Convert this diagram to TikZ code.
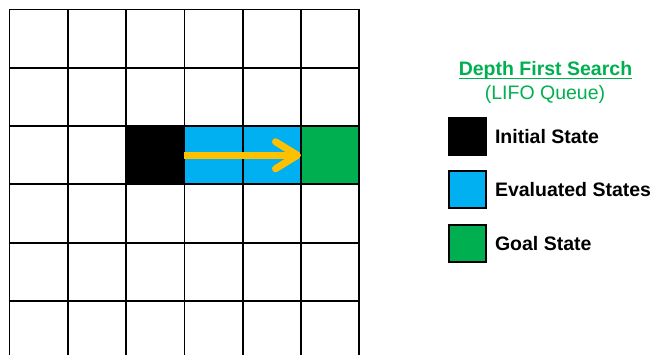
\documentclass[tikz,border=0pt]{standalone}
\usepackage{fontspec}
\setmainfont{Liberation Sans}
\usetikzlibrary{arrows.meta,positioning}
\definecolor{seenblue}{HTML}{00B0F0}
\definecolor{goalgreen}{HTML}{00B050}
\definecolor{pathorange}{HTML}{FFC000}
\tikzset{
  cell/.style={draw=black, line width=1.8pt, minimum size=58.3pt, inner sep=0pt, outer sep=0pt, anchor=north west},
  startcell/.style={cell, fill=black},
  seencell/.style={cell, fill=seenblue},
  goalcell/.style={cell, fill=goalgreen},
  key/.style={draw=black, line width=1.2pt, minimum size=37pt, inner sep=0pt, outer sep=0pt},
  keylabel/.style={font=\fontsize{19.5}{22}\selectfont\bfseries, inner sep=0pt, outer sep=0pt, anchor=west},
  heading/.style={font=\fontsize{19.5}{22}\selectfont, text=goalgreen, inner sep=0pt, anchor=base},
  searcharrow/.style={-{Straight Barb[length=22pt, width=27pt, round]}, line width=7pt, draw=pathorange}
}

\begin{document}
\begin{tikzpicture}[x=1pt, y=-1pt]
  \useasboundingbox (0,0) rectangle (657,355);
  % grid of states
  \foreach \col in {0,...,5}
    \foreach \row in {0,...,5}
      \node[cell] (c-\col-\row) at (9.5+\col*58.3, 9.5+\row*58.3) {};
  \node[startcell] (start) at (c-2-2.north west) {};
  \node[seencell] (seen1) at (c-3-2.north west) {};
  \node[seencell] (seen2) at (c-4-2.north west) {};
  \node[goalcell] (goal) at (c-5-2.north west) {};

  \draw[searcharrow, preaction={draw=black!30, transform canvas={shift={(1.5pt,-1.5pt)}}}] (seen1.west) -- (goal.west);

  % legend
  \node[heading, font=\fontsize{19.5}{22}\selectfont\bfseries] (title) at (545.5,76) {Depth First Search};
  \draw[goalgreen, line width=1.4pt] ([yshift=-2.5pt]title.base west) -- ([yshift=-2.5pt]title.base east);
  \node[heading] (queue) at (545,100) {(LIFO Queue)};

  \node[key, fill=black] (key1) at (467.5,136.5) {};
  \node[key, fill=seenblue] (key2) at (467.5,189.5) {};
  \node[key, fill=goalgreen] (key3) at (467.5,243.5) {};
  \node[keylabel, right=9pt of key1] (lab1) {Initial State};
  \node[keylabel, right=9pt of key2] (lab2) {Evaluated States};
  \node[keylabel, right=9pt of key3] (lab3) {Goal State};
\end{tikzpicture}
\end{document}
